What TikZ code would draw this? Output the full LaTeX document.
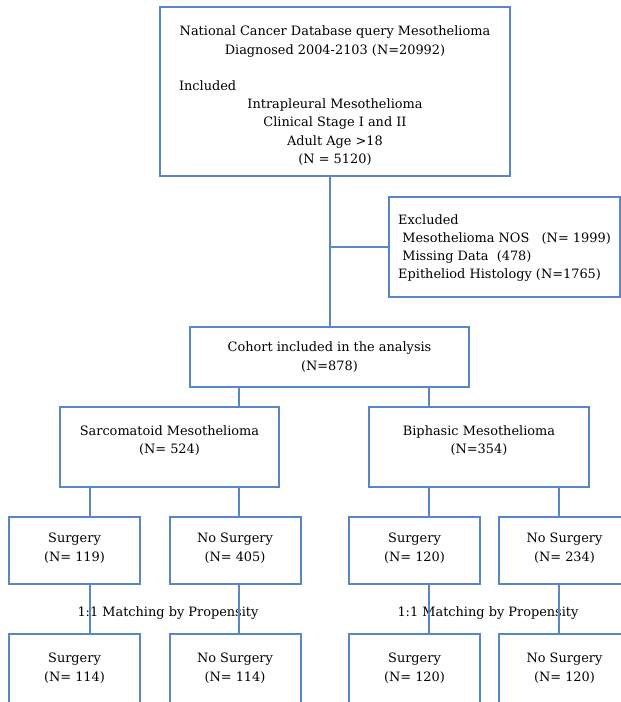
\documentclass[tikz,border=0pt]{standalone}
\usepackage{fontspec}
\setmainfont{DejaVu Serif}
\usepackage{tikz}
\definecolor{boxblue}{RGB}{88,134,200}

\begin{document}
\begin{tikzpicture}[
    x=1pt,
    y=-1pt,
    box/.style={draw=boxblue, line width=2pt, inner sep=0pt, align=center,
        font=\fontsize{12.9}{18.2}\selectfont},
    hist/.style={box, minimum width=220pt, minimum height=80pt, text depth=15.5pt},
    arm/.style={box, minimum width=131pt, minimum height=67pt, text depth=6.5pt},
    matched/.style={box, minimum width=131pt, minimum height=80pt, text depth=13.5pt},
    lbl/.style={font=\fontsize{12.9}{18.2}\selectfont},
    link/.style={draw=boxblue, line width=2pt}
]
\clip (0,0) rectangle (621,702);

% --- Columns of the connectors ---
\coordinate (colA) at (90,0);
\coordinate (colB) at (239,0);
\coordinate (colC) at (429,0);
\coordinate (colD) at (559,0);

% --- Query and exclusions ---
\node[box, minimum width=350pt, minimum height=169pt] (query) at (335,91.5)
{\rule{0pt}{18pt}National Cancer Database query Mesothelioma\\
Diagnosed 2004-2103 (N=20992)\\[18.2pt]
\makebox[312pt][l]{Included}\\
Intrapleural Mesothelioma\\
Clinical Stage I and II\\
Adult Age >18\\
(N = 5120)};

\node[box, align=left, minimum width=231pt, minimum height=100pt] (excl) at (504.5,247)
{\rule{0pt}{12pt}Excluded\\
\ Mesothelioma NOS \ \ (N= 1999)\\
\ Missing Data\ \ (478)\\
Epitheliod Histology (N=1765)};

% --- Cohort ---
\node[box, minimum width=279pt, minimum height=60pt] (cohort) at (329.5,357)
{Cohort included in the analysis\\(N=878)};

% --- Histology ---
\node[hist, minimum width=219pt] (sarc) at (169.5,447) {Sarcomatoid Mesothelioma\\(N= 524)};
\node[hist] (biph) at (479,447) {Biphasic Mesothelioma\\(N=354)};

% --- Surgery / no surgery ---
\node[arm] (surgA) at (74.5,550.5) {Surgery\\(N= 119)};
\node[arm] (nosurgA) at (235,550.5) {No Surgery\\(N= 405)};
\node[arm] (surgB) at (414.5,550.5) {Surgery\\(N= 120)};
\node[arm] (nosurgB) at (564.5,550.5) {No Surgery\\(N= 234)};

% --- Propensity matching ---
\node[lbl] (matchA) at (168,613) {1:1 Matching by Propensity};
\node[lbl] (matchB) at (488,613) {1:1 Matching by Propensity};

\node[matched] (msurgA) at (74.5,674) {Surgery\\(N= 114)};
\node[matched] (mnosurgA) at (235,674) {No Surgery\\(N= 114)};
\node[matched] (msurgB) at (414.5,674) {Surgery\\(N= 120)};
\node[matched] (mnosurgB) at (564.5,674) {No Surgery\\(N= 120)};

% --- Connectors ---
\draw[link] (query.south -| cohort.north) -- (cohort.north);
\draw[link] (cohort.north |- excl.west) -- (excl.west);

\draw[link] (cohort.south -| colB) -- (sarc.north -| colB);
\draw[link] (cohort.south -| colC) -- (biph.north -| colC);

\draw[link] (sarc.south -| colA) -- (surgA.north -| colA);
\draw[link] (sarc.south -| colB) -- (nosurgA.north -| colB);
\draw[link] (biph.south -| colC) -- (surgB.north -| colC);
\draw[link] (biph.south -| colD) -- (nosurgB.north -| colD);

% matching lines run over the labels
\draw[link] (surgA.south -| colA) -- (msurgA.north -| colA);
\draw[link] (nosurgA.south -| colB) -- (mnosurgA.north -| colB);
\draw[link] (surgB.south -| colC) -- (msurgB.north -| colC);
\draw[link] (nosurgB.south -| colD) -- (mnosurgB.north -| colD);
\end{tikzpicture}
\end{document}
